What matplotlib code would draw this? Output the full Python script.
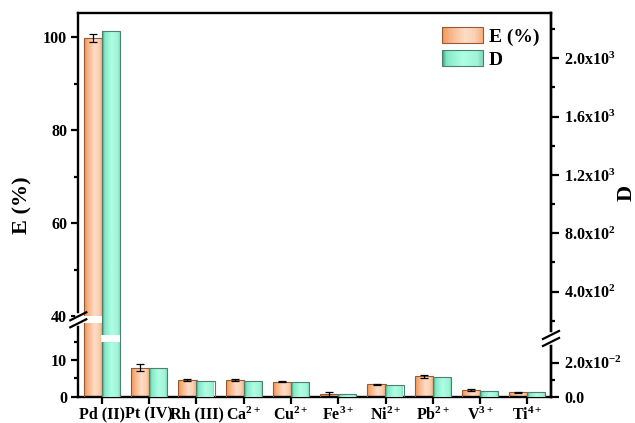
import numpy as np
import matplotlib
matplotlib.use("Agg")
import matplotlib.pyplot as plt
from matplotlib.colors import LinearSegmentedColormap
from matplotlib.patches import Rectangle
from matplotlib.legend_handler import HandlerBase
from matplotlib.lines import Line2D
from matplotlib.ticker import FixedLocator, NullFormatter

# ---------------- data ----------------
categories = ['Pd (II)', 'Pt (IV)', 'Rh (III)', 'Ca$^{2+}$', 'Cu$^{2+}$',
              'Fe$^{3+}$', 'Ni$^{2+}$', 'Pb$^{2+}$', 'V$^{3+}$', 'Ti$^{4+}$']
E_values = [99.8, 7.9, 4.5, 4.5, 4.1, 0.75, 3.4, 5.6, 1.8, 1.2]
E_errors = [0.8, 0.9, 0.3, 0.2, 0.2, 0.45, 0.1, 0.4, 0.3, 0.1]
D_values = [2190, 0.0171, 0.0094, 0.0094, 0.0085, 0.0016, 0.0069, 0.0118, 0.0034, 0.0026]

left_major = [0, 10, 40, 60, 80, 100]
left_minor = [5, 15, 50, 70, 90]
right_major = [0.0, 0.02, 400, 800, 1200, 1600, 2000]
right_major_labels = ['0.0', '2.0x10$^{-2}$', '4.0x10$^{2}$', '8.0x10$^{2}$',
                      '1.2x10$^{3}$', '1.6x10$^{3}$', '2.0x10$^{3}$']
right_minor = [0.01, 200, 600, 1000, 1400, 1800, 2200]

# broken-axis definitions (value ranges for lower / upper segments)
L_low_end, L_up_start, L_top = 20.0, 40.0, 105.2
R_low_end, R_up_start, R_top = 0.0322, 103.0, 2310.0

plt.rcParams['font.family'] = ['Liberation Serif', 'DejaVu Serif']
plt.rcParams['font.weight'] = 'bold'
plt.rcParams['mathtext.fontset'] = 'custom'
plt.rcParams['mathtext.rm'] = 'Liberation Serif:bold'
plt.rcParams['mathtext.bf'] = 'Liberation Serif:bold'
plt.rcParams['mathtext.it'] = 'Liberation Serif:bold:italic'
plt.rcParams['mathtext.default'] = 'rm'


def make_broken(a_lo, lo_end, up_start, a_up, gap_px):
    lo_px = lo_end * a_lo
    up_px = lo_px + gap_px

    def fwd(v):
        v = np.asarray(v, dtype=float)
        mid = lo_px + (v - lo_end) * gap_px / (up_start - lo_end)
        return np.where(v <= lo_end, v * a_lo,
                        np.where(v >= up_start, up_px + (v - up_start) * a_up, mid))

    def inv(p):
        p = np.asarray(p, dtype=float)
        mid = lo_end + (p - lo_px) * (up_start - lo_end) / gap_px
        return np.where(p <= lo_px, p / a_lo,
                        np.where(p >= up_px, up_start + (p - up_px) / a_up, mid))
    return fwd, inv


left_fwd, left_inv = make_broken(3.67, L_low_end, L_up_start, 4.65, 7.0)
right_fwd, right_inv = make_broken(1700.0, R_low_end, R_up_start, 0.1459, 7.0)

W, H = 635, 423
fig = plt.figure(figsize=(W / 100, H / 100), dpi=100)
ax_l, ax_r, ax_b, ax_t = 78.3, 551.0, 396.7, 13.0
ax = fig.add_axes([ax_l / W, (H - ax_b) / H, (ax_r - ax_l) / W, (ax_b - ax_t) / H])
ax.set_yscale('function', functions=(left_fwd, left_inv))
ax2 = ax.twinx()
ax2.set_yscale('function', functions=(right_fwd, right_inv))

x = np.arange(len(categories))
bw = 0.385
off = 0.19

orange_cmap = LinearSegmentedColormap.from_list(
    'o', [(0, '#F29657'), (0.15, '#F6AE7E'), (0.55, '#FDDCC6'), (0.8, '#FCD0B2'), (1, '#F6AD7D')])
green_cmap = LinearSegmentedColormap.from_list(
    'g', [(0, '#3FA886'), (0.12, '#86E8C8'), (0.5, '#ADFEE3'), (0.85, '#A0F4D8'), (1, '#7FD9BB')])

bars_e = ax.bar(x - off, E_values, bw, color='none', edgecolor='#9A5A30', linewidth=0.8, zorder=3)
bars_d = ax2.bar(x + off, D_values, bw, color='none', edgecolor='#4F7F6F', linewidth=0.8, zorder=3)

grad = np.linspace(0, 1, 64).reshape(1, -1)
for axis, bars, cmap in ((ax, bars_e, orange_cmap), (ax2, bars_d, green_cmap)):
    for b in bars:
        x0, y0 = b.get_x(), b.get_y()
        im = axis.imshow(grad, cmap=cmap, aspect='auto', interpolation='bilinear',
                         extent=[x0, x0 + b.get_width(), y0, y0 + b.get_height()], zorder=2)
        im.set_clip_path(b)
ax.set_xlim(-0.5, 9.5)
ax.set_ylim(0, L_top)
ax2.set_ylim(0, R_top)

ax.errorbar(x - off, E_values, yerr=E_errors, fmt='none', ecolor='black',
            elinewidth=0.9, capsize=3.2, capthick=0.9, zorder=4)

# white gaps across bars that cross the breaks
for b, v in zip(bars_e, E_values):
    if v > L_up_start:
        ax.add_patch(Rectangle((b.get_x() - 0.01, L_low_end), b.get_width() + 0.02,
                               L_up_start - L_low_end, facecolor='white', edgecolor='none', zorder=5))
for b, v in zip(bars_d, D_values):
    if v > R_up_start:
        ax2.add_patch(Rectangle((b.get_x() - 0.01, R_low_end), b.get_width() + 0.02,
                                R_up_start - R_low_end, facecolor='white', edgecolor='none', zorder=5))

# ticks
ax.set_xticks(x)
ax.set_xticklabels(categories)
ax.yaxis.set_major_locator(FixedLocator(left_major))
ax.yaxis.set_minor_locator(FixedLocator(left_minor))
ax.yaxis.set_minor_formatter(NullFormatter())
ax.set_yticklabels([str(v) for v in left_major])
ax2.yaxis.set_major_locator(FixedLocator(right_major))
ax2.set_yticklabels(right_major_labels)
ax2.yaxis.set_minor_locator(FixedLocator(right_minor))
ax2.yaxis.set_minor_formatter(NullFormatter())
ax.xaxis.set_minor_locator(FixedLocator([]))

ax.tick_params(axis='both', which='major', direction='out', length=5, width=1.6,
               labelsize=11.5, pad=3)
ax.tick_params(axis='y', which='minor', direction='out', length=3, width=1.6)
ax.tick_params(axis='x', pad=2)
ax2.tick_params(axis='y', which='major', direction='out', length=5.5, width=1.6,
                labelsize=11.5, pad=4)
ax2.tick_params(axis='y', which='minor', direction='out', length=3, width=1.6)

for s in ax.spines.values():
    s.set_linewidth(1.7)
for name in ('left', 'top', 'bottom'):
    ax2.spines[name].set_visible(False)
ax2.spines['right'].set_linewidth(1.7)

ax.set_ylabel('E (%)', fontsize=16, fontweight='bold')
ax.yaxis.set_label_coords(-0.097, 0.5)
ax2.set_ylabel('D', fontsize=16, fontweight='bold')
ax2.yaxis.set_label_coords(1.138, 0.53)


# legend with gradient handles
class GradHandler(HandlerBase):
    def __init__(self, cmap, edge):
        super().__init__()
        self.cmap = cmap
        self.edge = edge

    def create_artists(self, legend, orig_handle, xdescent, ydescent, width, height, fontsize, trans):
        arts = []
        n = 30
        for i in range(n):
            r = Rectangle((-xdescent + width * i / n, -ydescent), width / n + 0.3, height,
                          facecolor=self.cmap((i + 0.5) / n), edgecolor='none', transform=trans)
            arts.append(r)
        arts.append(Rectangle((-xdescent, -ydescent), width, height, facecolor='none',
                              edgecolor=self.edge, linewidth=0.8, transform=trans))
        return arts


h1 = Rectangle((0, 0), 1, 1)
h2 = Rectangle((0, 0), 1, 1)
leg = ax2.legend([h1, h2], ['E (%)', 'D'], loc='upper right', frameon=False,
                 fontsize=14, handlelength=2.1, handleheight=0.95, handletextpad=0.3,
                 labelspacing=0.2, borderaxespad=0.2,
                 bbox_to_anchor=(1.0, 0.995),
                 handler_map={h1: GradHandler(orange_cmap, '#9A5A30'),
                              h2: GradHandler(green_cmap, '#4F7F6F')})
leg.set_zorder(10)

# axis break marks on spines (positions from the axes' own transforms)
inv_fig = fig.transFigure.inverted()


def break_marks(axis, xpos_axes, y_lo_val, y_hi_val):
    tr = axis.get_yaxis_transform()
    p_lo = tr.transform((xpos_axes, y_lo_val))
    p_hi = tr.transform((xpos_axes, y_hi_val))
    seg = inv_fig.transform([p_lo, p_hi])
    fig.add_artist(Line2D(seg[:, 0], seg[:, 1], color='white', linewidth=4,
                          transform=fig.transFigure, zorder=20))
    dx, dy = 8.0, 4.0
    for p in (p_lo, p_hi):
        pts = inv_fig.transform([[p[0] - dx, p[1] - dy], [p[0] + dx, p[1] + dy]])
        fig.add_artist(Line2D(pts[:, 0], pts[:, 1], color='black', linewidth=1.6,
                              transform=fig.transFigure, zorder=21))


break_marks(ax, 0.0, L_low_end, L_up_start)
break_marks(ax2, 1.0, R_low_end, R_up_start)

fig.savefig('out.png', dpi=100)
